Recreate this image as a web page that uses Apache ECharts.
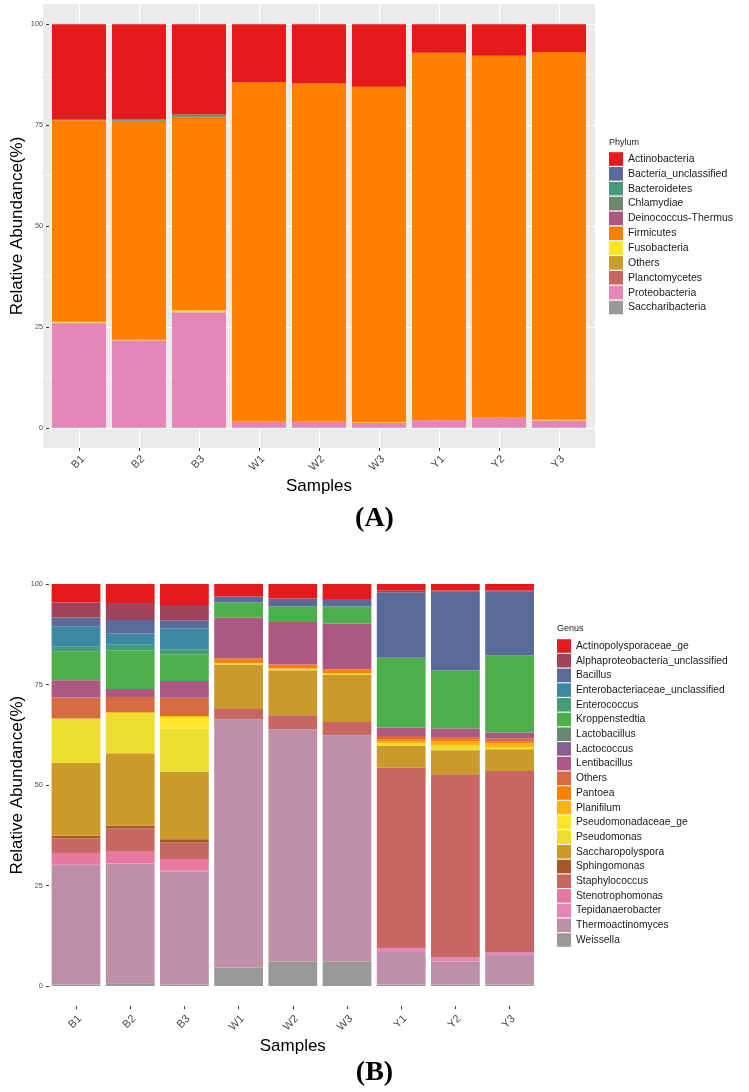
<!DOCTYPE html>
<html>
<head>
<meta charset="utf-8">
<script src="https://cdn.jsdelivr.net/npm/echarts@6.0.0/dist/echarts.min.js"></script>
<style>
html, body { margin: 0; padding: 0; background: #fff; }
#main { width: 749px; height: 1092px; }
</style>
</head>
<body>
<div id="main"></div>
<script>
var samples = ['B1', 'B2', 'B3', 'W1', 'W2', 'W3', 'Y1', 'Y2', 'Y3'];

// (A) phylum level, % per sample
var phyla = ['Actinobacteria', 'Bacteria_unclassified', 'Bacteroidetes', 'Chlamydiae', 'Deinococcus-Thermus',
    'Firmicutes', 'Fusobacteria', 'Others', 'Planctomycetes', 'Proteobacteria', 'Saccharibacteria'];
var phylumColors = ['#E41A1C', '#5A6A99', '#449B76', '#6B886E', '#AD5882', '#FF7F00',
    '#FFE529', '#CA9A2C', '#C66764', '#E486B7', '#999999'];
var actinobacteria      = [23.5, 23.6, 22.4, 14.3, 14.7, 15.5, 7.1, 7.8, 6.9];
var bacteriaUncl        = [0, 0, 0, 0, 0, 0, 0, 0, 0];
var bacteroidetes       = [0.3, 0.3, 0.4, 0, 0, 0, 0, 0, 0];
var chlamydiae          = [0, 0, 0.2, 0, 0, 0, 0, 0, 0];
var deinococcus         = [0, 0, 0, 0, 0, 0, 0, 0, 0];
var firmicutes          = [49.9, 54.3, 47.9, 84.2, 83.8, 83.1, 91.0, 89.7, 91.1];
var fusobacteria        = [0.3, 0.1, 0.5, 0, 0, 0.2, 0, 0, 0.2];
var phylumOthers        = [0.1, 0, 0, 0, 0, 0, 0, 0, 0];
var planctomycetes      = [0, 0, 0, 0, 0, 0, 0, 0, 0];
var proteobacteria      = [25.9, 21.7, 28.6, 1.5, 1.5, 1.2, 1.9, 2.5, 1.8];
var saccharibacteria    = [0, 0, 0, 0, 0, 0, 0, 0, 0];
var phylumValues = [actinobacteria, bacteriaUncl, bacteroidetes, chlamydiae, deinococcus, firmicutes,
    fusobacteria, phylumOthers, planctomycetes, proteobacteria, saccharibacteria];

// (B) genus level, % per sample
var genera = ['Actinopolysporaceae_ge', 'Alphaproteobacteria_unclassified', 'Bacillus',
    'Enterobacteriaceae_unclassified', 'Enterococcus', 'Kroppenstedtia', 'Lactobacillus', 'Lactococcus',
    'Lentibacillus', 'Others', 'Pantoea', 'Planifilum', 'Pseudomonadaceae_ge', 'Pseudomonas',
    'Saccharopolyspora', 'Sphingomonas', 'Staphylococcus', 'Stenotrophomonas', 'Tepidanaerobacter',
    'Thermoactinomyces', 'Weissella'];
var genusColors = ['#E41A1C', '#9F425A', '#5A6A99', '#3B88A2', '#449B76', '#4DAF4A', '#6B886E', '#896191',
    '#AD5882', '#D66B41', '#FF7F00', '#FFB214', '#FFE529', '#EDDD31', '#CA9A2C', '#A65628', '#C66764',
    '#E778A1', '#E486B7', '#BF8FA8', '#999999'];
var actinopolysporaceae = [4.6, 4.7, 5.2, 3.1, 3.6, 3.7, 1.5, 1.6, 1.5];
var alphaproteoUncl     = [3.7, 4.2, 3.8, 0, 0, 0, 0.5, 0.3, 0.4];
var bacillus            = [2.3, 3.4, 2.0, 1.5, 1.9, 1.9, 16.3, 19.5, 15.8];
var enterobactUncl      = [5.0, 2.8, 5.2, 0, 0, 0, 0, 0, 0];
var enterococcus        = [1.2, 1.5, 1.3, 0, 0, 0, 0, 0, 0];
var kroppenstedtia      = [7.1, 9.5, 6.6, 3.8, 3.9, 4.2, 17.4, 14.5, 19.2];
var lactobacillus       = [0, 0, 0, 0, 0, 0, 0, 0, 0];
var lactococcus         = [0, 0, 0, 0, 0, 0, 0, 0, 0];
var lentibacillus       = [4.3, 2.0, 4.2, 10.1, 10.6, 11.4, 2.1, 2.3, 1.5];
var genusOthers         = [5.2, 3.7, 4.5, 0, 0, 0, 0.8, 0.5, 0.8];
var pantoea             = [0, 0, 0, 1.1, 1.0, 1.0, 0.4, 0.4, 0.4];
var planifilum          = [0.2, 0.3, 0.4, 0, 0, 0, 0.6, 1.1, 0.9];
var pseudomonadaceae    = [0.1, 0.1, 2.7, 0.4, 0.4, 0.4, 0, 0, 0];
var pseudomonas         = [10.8, 9.9, 10.8, 0, 0, 0, 0.7, 1.1, 0.6];
var saccharopolyspora   = [18.1, 18.0, 16.8, 11.1, 11.2, 11.7, 5.4, 6.0, 5.4];
var sphingomonas        = [0.7, 0.7, 0.8, 0, 0, 0, 0, 0, 0];
var staphylococcus      = [3.6, 5.8, 4.1, 2.5, 3.5, 3.3, 44.9, 45.6, 45.0];
var stenotrophomonas    = [2.9, 2.8, 2.9, 0, 0, 0, 0, 0, 0];
var tepidanaerobacter   = [0.1, 0.1, 0.1, 0, 0, 0, 0.9, 1.0, 0.6];
var thermoactinomyces   = [29.7, 29.8, 28.2, 61.8, 57.8, 56.3, 8.1, 5.7, 7.5];
var weissella           = [0.4, 0.7, 0.4, 4.6, 6.1, 6.1, 0.4, 0.4, 0.4];
var genusValues = [actinopolysporaceae, alphaproteoUncl, bacillus, enterobactUncl, enterococcus,
    kroppenstedtia, lactobacillus, lactococcus, lentibacillus, genusOthers, pantoea, planifilum,
    pseudomonadaceae, pseudomonas, saccharopolyspora, sphingomonas, staphylococcus, stenotrophomonas,
    tepidanaerobacter, thermoactinomyces, weissella];

var yTicks = [0, 25, 50, 75, 100];

var FONT = 'Liberation Sans, Arial, Helvetica, sans-serif';
var PREFIX_B = 'B_';
var xPos = samples.map(function (s, i) { return i + 1; });

function sampleLabel(v) {
    var r = Math.round(v);
    if (Math.abs(v - r) > 1e-6) return '';
    return samples[r - 1] || '';
}

// ggplot stacks the first level on top, so push series from the last one
function buildSeries(names, values, colors, axisIdx, stackId, prefix) {
    var out = [];
    for (var k = names.length - 1; k >= 0; k--) {
        out.push({
            type: 'bar',
            name: prefix + names[k],
            stack: stackId,
            xAxisIndex: axisIdx,
            yAxisIndex: axisIdx,
            barWidth: '90%',
            silent: true,
            itemStyle: { color: colors[k] },
            data: values[k]
        });
    }
    return out;
}

// panel axis: value scale with 0.6 band padding each side, like ggplot's discrete expand
function panelX(gridIdx, showSplit, margin, gap) {
    return {
        gridIndex: gridIdx, type: 'value', min: 0.4, max: 9.6, splitNumber: 9,
        axisLine: { show: false },
        axisTick: { show: true, length: 3, customValues: xPos, lineStyle: { color: '#333333', width: 1 } },
        axisLabel: {
            customValues: xPos, formatter: sampleLabel, rotate: 45, align: 'right', verticalAlign: 'top',
            margin: margin, color: '#4D4D4D', fontSize: 11, fontFamily: FONT
        },
        splitLine: { show: showSplit, lineStyle: { color: '#FFFFFF', width: 1.2 } },
        name: 'Samples', nameLocation: 'middle', nameGap: gap,
        nameTextStyle: { color: '#000', fontSize: 17, fontFamily: FONT }
    };
}

function barX(gridIdx) {
    return { gridIndex: gridIdx, type: 'category', data: samples, boundaryGap: true, show: false };
}

function dataY(gridIdx) {
    return {
        gridIndex: gridIdx, type: 'value', min: 0, max: 100, interval: 25,
        axisLine: { show: false },
        axisTick: { show: true, length: 3, lineStyle: { color: '#333333', width: 1 } },
        axisLabel: { customValues: yTicks, color: '#4D4D4D', fontSize: 7.3, fontFamily: FONT, margin: 6 },
        splitLine: { show: false },
        name: 'Relative Abundance(%)', nameLocation: 'middle', nameRotate: 90, nameGap: 23.5,
        nameMoveOverlap: false,
        nameTextStyle: { color: '#000', fontSize: 17, fontFamily: FONT }
    };
}

var myChart = echarts.init(document.getElementById('main'), null, { renderer: 'canvas' });

var option = {
    animation: false,
    backgroundColor: '#FFFFFF',
    textStyle: { fontFamily: FONT },
    title: [
        { text: 'Phylum', left: 609, top: 138, padding: 0,
          textStyle: { fontSize: 9, fontWeight: 'normal', color: '#1a1a1a', fontFamily: FONT } },
        { text: 'Genus', left: 557, top: 624, padding: 0,
          textStyle: { fontSize: 9, fontWeight: 'normal', color: '#1a1a1a', fontFamily: FONT } },
        { text: '(A)', left: 'center', top: 505, padding: 0,
          textStyle: { fontSize: 28, fontWeight: 'bold', color: '#000', fontFamily: 'Liberation Serif, Times New Roman, serif' } },
        { text: '(B)', left: 'center', top: 1059, padding: 0,
          textStyle: { fontSize: 28, fontWeight: 'bold', color: '#000', fontFamily: 'Liberation Serif, Times New Roman, serif' } }
    ],
    legend: [{
        data: phyla, orient: 'vertical', left: 609, top: 152, padding: 0,
        icon: 'rect', itemWidth: 14, itemHeight: 13.6, itemGap: 0.85, selectedMode: false,
        textStyle: { fontSize: 10.5, color: '#1a1a1a', lineHeight: 14, fontFamily: FONT }
    }, {
        data: genera.map(function (g) { return PREFIX_B + g; }),
        formatter: function (name) { return name.slice(PREFIX_B.length); },
        orient: 'vertical', left: 557, top: 639, padding: 0,
        icon: 'rect', itemWidth: 14, itemHeight: 13.6, itemGap: 0.7, selectedMode: false,
        textStyle: { fontSize: 10.3, color: '#1a1a1a', lineHeight: 14, fontFamily: FONT }
    }],
    grid: [
        // (A) panel incl. expansion, grey background
        { left: 43, top: 4, width: 552, height: 444, show: true, backgroundColor: '#EBEBEB', borderWidth: 0, outerBoundsMode: 'none' },
        // (A) bars: 9 bands of 60px, y 0-100
        { left: 49, top: 24.2, width: 540, height: 403.6, outerBoundsMode: 'none' },
        // (B) panel
        { left: 43.5, top: 564, width: 498.6, height: 442.2, outerBoundsMode: 'none' },
        // (B) bars: 9 bands of 54.2px
        { left: 48.9, top: 584.1, width: 487.8, height: 402, outerBoundsMode: 'none' },
        // (A) horizontal gridlines over the full panel width
        { left: 43, top: 24.2, width: 552, height: 403.6, outerBoundsMode: 'none' }
    ],
    xAxis: [
        panelX(0, true, 5.5, 30), barX(1), panelX(2, false, 7, 32), barX(3),
        { gridIndex: 4, type: 'value', min: 0, max: 1, show: false }
    ],
    yAxis: [
        { gridIndex: 0, type: 'value', min: 0, max: 1, show: false },
        dataY(1),
        { gridIndex: 2, type: 'value', min: 0, max: 1, show: false },
        dataY(3),
        {
            gridIndex: 4, type: 'value', min: 0, max: 100, interval: 25,
            axisLine: { show: false }, axisTick: { show: false }, axisLabel: { show: false },
            splitLine: { show: true, lineStyle: { color: '#FFFFFF', width: 1.2 } },
            minorTick: { show: false, splitNumber: 2 },
            minorSplitLine: { show: true, lineStyle: { color: '#FFFFFF', width: 0.6 } }
        }
    ],
    series: buildSeries(phyla, phylumValues, phylumColors, 1, 'phylum', '')
        .concat(buildSeries(genera, genusValues, genusColors, 3, 'genus', PREFIX_B))
};

if (option && typeof option === 'object') {
    myChart.setOption(option, true);
}
</script>
</body>
</html>
